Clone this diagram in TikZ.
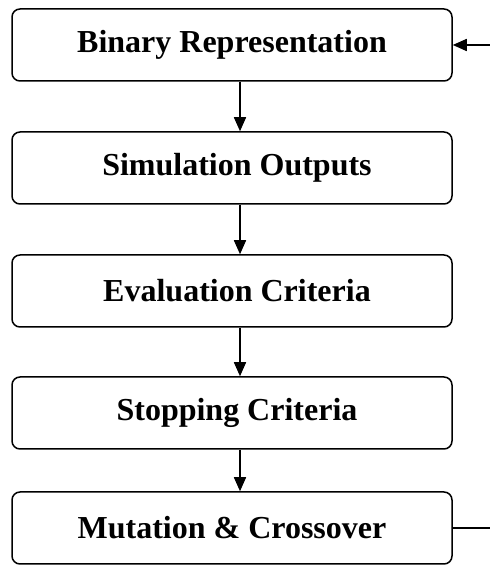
\documentclass[tikz,border=0pt]{standalone}
\usepackage{fontspec}
\setmainfont{Liberation Serif}
\usetikzlibrary{arrows.meta}
\begin{document}
\begin{tikzpicture}[x=1pt,y=1pt,
  stagebox/.style={draw, line width=1.5pt, rounded corners=8pt,
    minimum width=440pt, minimum height=72pt, inner sep=0pt,
    font=\fontsize{32}{36}\selectfont\bfseries},
  nudged/.style={execute at begin node=\hspace*{10pt}},
  flow/.style={line width=1.5pt, -{Triangle[length=14pt,width=12pt]}},
  plain/.style={line width=1.5pt}]
\useasboundingbox (0,0) rectangle (490,565);

% the five stages of the loop
\node[stagebox]        (rep)  at (232,520) {Binary Representation};
\node[stagebox,nudged] (sim)  at (232,397) {Simulation Outputs};
\node[stagebox,nudged] (eval) at (232,274) {Evaluation Criteria};
\node[stagebox,nudged] (stop) at (232,152) {Stopping Criteria};
\node[stagebox]        (mut)  at (232,37)  {Mutation \& Crossover};

% downward flow, slightly right of centre
\draw[flow] ([xshift=8pt]rep.south)  -- ([xshift=8pt]sim.north);
\draw[flow] ([xshift=8pt]sim.south)  -- ([xshift=8pt]eval.north);
\draw[flow] ([xshift=8pt]eval.south) -- ([xshift=8pt]stop.north);
\draw[flow] ([xshift=8pt]stop.south) -- ([xshift=8pt]mut.north);

% feedback loop leaving the right edge
\coordinate (loopout) at (490,36);
\coordinate (loopin)  at (490,520);
\draw[plain] (mut.east) -- (mut.east -| loopout);
\draw[flow] (loopin) -- (rep.east);
\end{tikzpicture}
\end{document}
